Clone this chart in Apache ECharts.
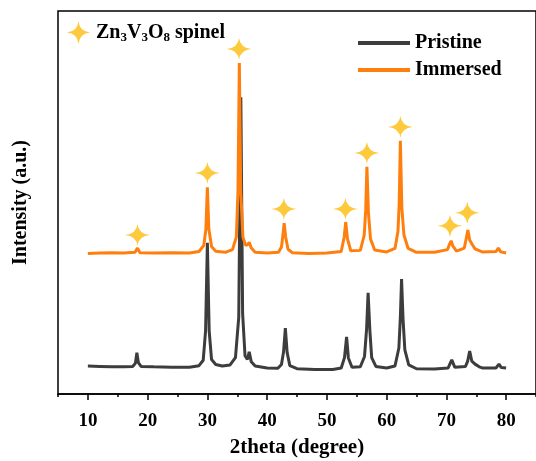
<!DOCTYPE html>
<html lang="en">

<head>
    <meta charset="UTF-8">
    <title>XRD</title>
    <script src="https://cdn.jsdelivr.net/npm/echarts@6.0.0/dist/echarts.min.js"></script>
    <style>
        html, body { margin: 0; padding: 0; background: #fff; }
    </style>
</head>

<body>
    <div id="chart" style="width: 536px;height: 461px;"></div>

    <script>
        // 2theta / intensity pairs (a.u.)
        const pristine = [
            [10, 73], [12, 72], [14, 71], [16, 71], [17.5, 72], [17.95, 80], [18.2, 108], [18.45, 82], [18.9, 72],
            [21, 71], [24, 70], [27, 70], [28.6, 74], [29.3, 88], [29.7, 165], [30.0, 395], [30.3, 165],
            [30.7, 90], [31.4, 77], [32.5, 73], [33.8, 76], [34.7, 95], [35.25, 200], [35.6, 775], [35.9, 210],
            [36.3, 100], [36.7, 90], [37.0, 110], [37.35, 84], [38, 73], [40, 68], [41.8, 67], [42.4, 77], [42.75, 110],
            [43.05, 172], [43.35, 108], [43.8, 74], [45, 66], [48, 64], [51, 64], [52.4, 68], [52.95, 95], [53.3, 149],
            [53.6, 94], [54.2, 70], [55.6, 71], [56.3, 98], [56.65, 170], [56.9, 264], [57.2, 165], [57.5, 95],
            [58.2, 72], [60, 68], [61.4, 73], [62.05, 120], [62.3, 200], [62.5, 300], [62.75, 195], [63.05, 115],
            [63.7, 76], [65, 66], [68, 65], [70.3, 68], [70.9, 89], [71.4, 70], [73.2, 72], [73.55, 85], [73.9, 112],
            [74.25, 86], [74.8, 78], [75.5, 71], [76, 68], [78.3, 68], [78.8, 78], [79.2, 69], [80, 68]
        ];
        const immersed = [
            [10, 367], [12, 368], [14, 369], [16, 368], [17.9, 370], [18.3, 381], [18.7, 369], [21, 368], [24, 369],
            [27, 368], [28.6, 372], [29.4, 388], [29.75, 430], [30.0, 540], [30.25, 430], [30.7, 385], [31.4, 373],
            [33, 370], [34.2, 377], [34.85, 410], [35.12, 530], [35.35, 864], [35.58, 530], [35.95, 410], [36.4, 388],
            [36.75, 390], [37.0, 396], [37.35, 381], [38, 370], [40, 368], [41.9, 370], [42.4, 384], [42.65, 415],
            [42.85, 446], [43.1, 410], [43.5, 378], [44.2, 369], [47, 367], [50, 368], [52.4, 372], [52.9, 410],
            [53.15, 449], [53.45, 405], [54.0, 374], [55.6, 375], [56.25, 415], [56.5, 480], [56.7, 593], [56.95, 475],
            [57.3, 405], [58, 376], [60, 371], [61.4, 380], [61.9, 425], [62.1, 495], [62.3, 661], [62.55, 485],
            [62.9, 415], [63.6, 380], [65, 370], [68, 370], [70.2, 377], [70.55, 392], [70.8, 400], [71.1, 386],
            [71.7, 373], [73.0, 381], [73.35, 408], [73.6, 428], [73.9, 402], [74.3, 391], [74.8, 379], [76, 371],
            [78.3, 372], [78.7, 381], [79.1, 371], [80, 368]
        ];
        // Zn3V3O8 spinel reflections marked with stars
        const spinelMarks = [
            [18.3, 415], [30.0, 577], [35.3, 901], [42.8, 483], [53.1, 483],
            [56.7, 629], [62.3, 697], [70.6, 439], [73.5, 473]
        ];
        const xTicks = [10, 20, 30, 40, 50, 60, 70, 80];

        const serif = '"Liberation Serif", "Times New Roman", serif';
        // 4-point sparkle star
        const starPath = 'path://M0,-10 Q0.9,-0.9 10,0 Q0.9,0.9 0,10 Q-0.9,0.9 -10,0 Q-0.9,-0.9 0,-10 Z';

        let myChart = echarts.init(document.getElementById('chart'));

        let option = {
            animation: false,
            grid: {
                left: 58, top: 11, right: 0, bottom: 67,
                outerBoundsMode: 'none', containLabel: false,
                show: true, borderColor: '#000', borderWidth: 1.5
            },
            legend: [{
                data: ['Pristine', 'Immersed'],
                orient: 'vertical',
                left: 353, top: 28,
                icon: 'rect', itemWidth: 52, itemHeight: 4, itemGap: 7,
                textStyle: { fontFamily: serif, fontWeight: 'bold', fontSize: 20, color: '#000' }
            }, {
                data: ['spinel'],
                left: 62, top: 16,
                icon: starPath, itemWidth: 25, itemHeight: 23,
                formatter: () => '{t|Zn}{s|3}{t|V}{s|3}{t|O}{s|8}{t| spinel}',
                textStyle: {
                    color: '#000',
                    rich: {
                        t: { fontFamily: serif, fontWeight: 'bold', fontSize: 20, color: '#000' },
                        s: { fontFamily: serif, fontWeight: 'bold', fontSize: 13, color: '#000', verticalAlign: 'bottom', padding: [0, 0, -2, 0] }
                    }
                }
            }],
            xAxis: [{
                type: 'value', min: 5, max: 85,
                name: '2theta (degree)', nameLocation: 'middle', nameGap: 43,
                nameTextStyle: { fontFamily: serif, fontWeight: 'bold', fontSize: 21, color: '#000' },
                axisLine: { lineStyle: { color: '#000', width: 1.5 } },
                axisTick: { customValues: xTicks, length: 6, lineStyle: { color: '#000', width: 1.5 } },
                axisLabel: { customValues: xTicks, margin: 18, fontFamily: serif, fontWeight: 'bold', fontSize: 19, color: '#000' },
                splitLine: { show: false }
            }, {
                type: 'value', min: 5, max: 85, interval: 5, position: 'bottom',
                axisLine: { show: false },
                axisTick: { length: 3, lineStyle: { color: '#000', width: 1.5 } },
                axisLabel: { show: false },
                splitLine: { show: false }
            }],
            yAxis: {
                type: 'value', min: 0, max: 1000,
                name: 'Intensity (a.u.)', nameLocation: 'middle', nameGap: 27,
                nameTextStyle: { fontFamily: serif, fontWeight: 'bold', fontSize: 20, color: '#000' },
                axisLine: { show: false },
                axisTick: { show: false },
                axisLabel: { show: false },
                splitLine: { show: false }
            },
            series: [{
                name: 'Pristine', type: 'line', data: pristine,
                symbol: 'none', color: '#3d3d3d',
                lineStyle: { width: 3 }
            }, {
                name: 'Immersed', type: 'line', data: immersed,
                symbol: 'none', color: '#ff7f0e',
                lineStyle: { width: 3 }
            }, {
                name: 'spinel', type: 'scatter', data: spinelMarks,
                symbol: starPath, symbolSize: [25, 22], color: '#fdbb0d', z: 5
            }]
        };
        myChart.setOption(option);
    </script>
</body>

</html>
